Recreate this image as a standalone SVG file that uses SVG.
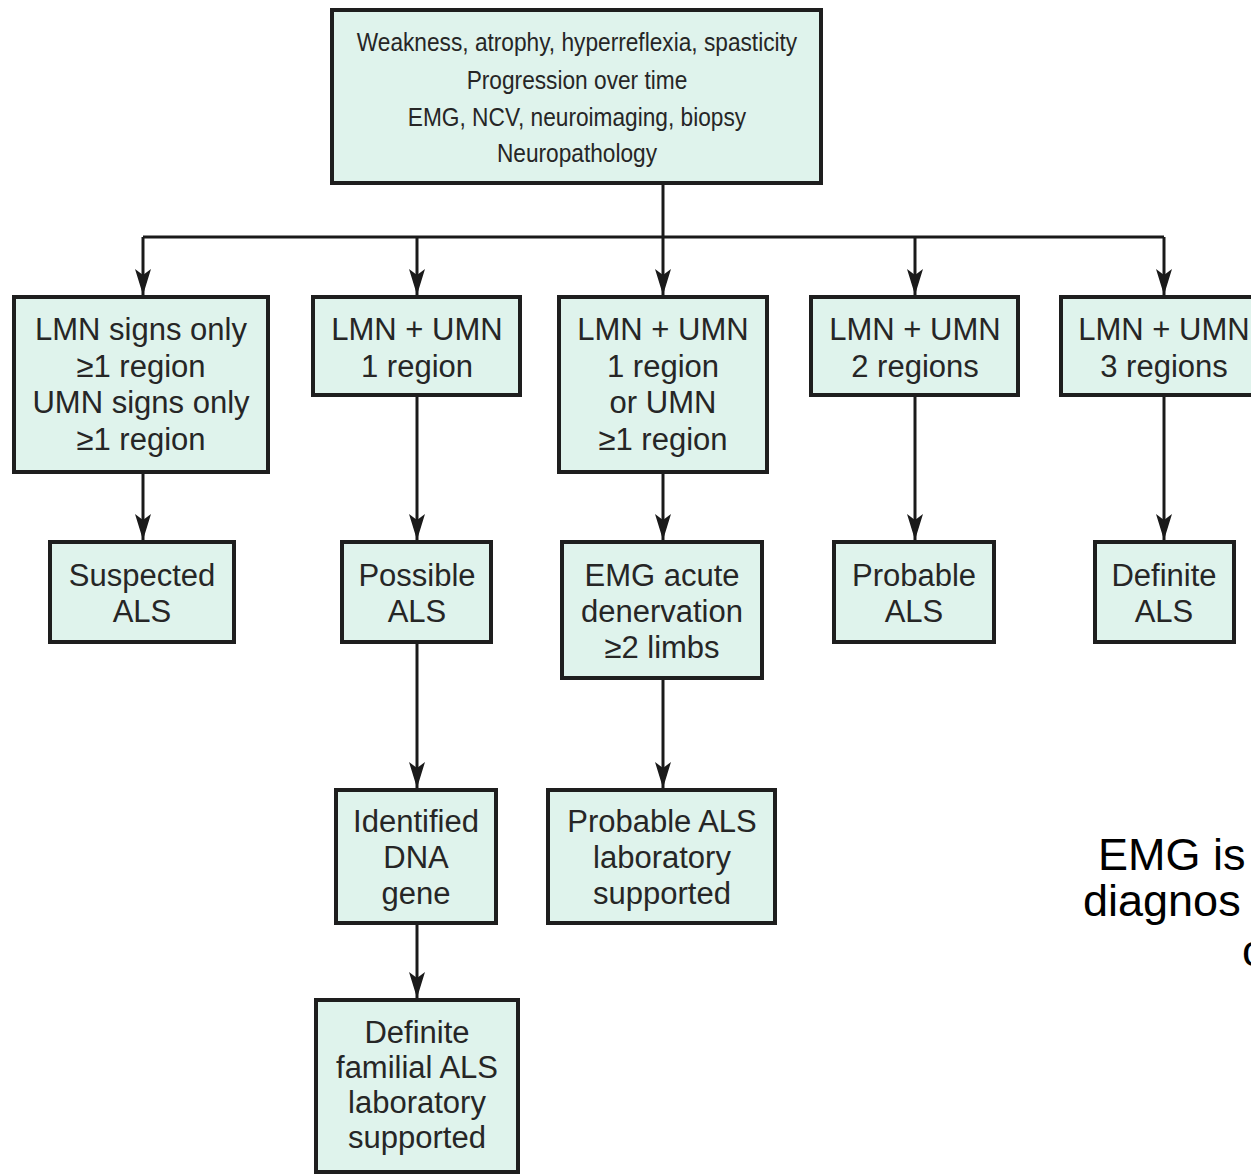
<svg xmlns="http://www.w3.org/2000/svg" width="1251" height="1174" viewBox="0 0 1251 1174">
<style>
.box{fill:#dff3ec;stroke:#1e1e1e;stroke-width:4}
.t{font-family:"Liberation Sans",Arial,sans-serif;font-size:31px;fill:#262626;text-anchor:middle}
.tt{font-family:"Liberation Sans",Arial,sans-serif;font-size:25.5px;fill:#262626;text-anchor:middle}
.c{fill:none;stroke:#1a1a1a;stroke-width:3}
.note{font-family:"Liberation Sans",Arial,sans-serif;font-size:45px;fill:#000}
</style>
<defs>
<marker id="ah" viewBox="0 0 26 16" refX="26" refY="8" markerWidth="26" markerHeight="16" markerUnits="userSpaceOnUse" orient="auto">
<path d="M0,0 L26,8 L0,16 L6,8 Z" fill="#1a1a1a"/>
</marker>
</defs>
<rect width="1251" height="1174" fill="#fff"/>
<g id="connectors">
<path class="c" d="M663,183 V237"/>
<path class="c" d="M143,237 H1164"/>
<path class="c" d="M143,237 V295" marker-end="url(#ah)"/>
<path class="c" d="M417,237 V295" marker-end="url(#ah)"/>
<path class="c" d="M663,237 V295" marker-end="url(#ah)"/>
<path class="c" d="M915,237 V295" marker-end="url(#ah)"/>
<path class="c" d="M1164,237 V295" marker-end="url(#ah)"/>
<path class="c" d="M143,472 V540" marker-end="url(#ah)"/>
<path class="c" d="M417,395 V540" marker-end="url(#ah)"/>
<path class="c" d="M663,472 V540" marker-end="url(#ah)"/>
<path class="c" d="M915,395 V540" marker-end="url(#ah)"/>
<path class="c" d="M1164,395 V540" marker-end="url(#ah)"/>
<path class="c" d="M417,642 V788" marker-end="url(#ah)"/>
<path class="c" d="M663,678 V788" marker-end="url(#ah)"/>
<path class="c" d="M417,923 V998" marker-end="url(#ah)"/>
</g>
<g id="top">
<rect class="box" x="332" y="10" width="489" height="173"/>
<g transform="translate(577,0) scale(0.89,1)">
<text class="tt" x="0" y="51">Weakness, atrophy, hyperreflexia, spasticity</text>
<text class="tt" x="0" y="89">Progression over time</text>
<text class="tt" x="0" y="126">EMG, NCV, neuroimaging, biopsy</text>
<text class="tt" x="0" y="162">Neuropathology</text>
</g>
</g>
<g id="n1">
<rect class="box" x="14" y="297" width="254" height="175"/>
<text class="t" x="141" y="340">LMN signs only</text>
<text class="t" x="141" y="377">≥1 region</text>
<text class="t" x="141" y="413">UMN signs only</text>
<text class="t" x="141" y="450">≥1 region</text>
</g>
<g id="n2">
<rect class="box" x="313" y="297" width="207" height="98"/>
<text class="t" x="417" y="340">LMN + UMN</text>
<text class="t" x="417" y="377">1 region</text>
</g>
<g id="n3">
<rect class="box" x="559" y="297" width="208" height="175"/>
<text class="t" x="663" y="340">LMN + UMN</text>
<text class="t" x="663" y="377">1 region</text>
<text class="t" x="663" y="413">or UMN</text>
<text class="t" x="663" y="450">≥1 region</text>
</g>
<g id="n4">
<rect class="box" x="811" y="297" width="207" height="98"/>
<text class="t" x="915" y="340">LMN + UMN</text>
<text class="t" x="915" y="377">2 regions</text>
</g>
<g id="n5">
<rect class="box" x="1061" y="297" width="207" height="98"/>
<text class="t" x="1164" y="340">LMN + UMN</text>
<text class="t" x="1164" y="377">3 regions</text>
</g>
<g id="n6">
<rect class="box" x="50" y="542" width="184" height="100"/>
<text class="t" x="142" y="586">Suspected</text>
<text class="t" x="142" y="622">ALS</text>
</g>
<g id="n7">
<rect class="box" x="342" y="542" width="149" height="100"/>
<text class="t" x="417" y="586">Possible</text>
<text class="t" x="417" y="622">ALS</text>
</g>
<g id="n8">
<rect class="box" x="562" y="542" width="200" height="136"/>
<text class="t" x="662" y="586">EMG acute</text>
<text class="t" x="662" y="622">denervation</text>
<text class="t" x="662" y="658">≥2 limbs</text>
</g>
<g id="n9">
<rect class="box" x="834" y="542" width="160" height="100"/>
<text class="t" x="914" y="586">Probable</text>
<text class="t" x="914" y="622">ALS</text>
</g>
<g id="n10">
<rect class="box" x="1095" y="542" width="139" height="100"/>
<text class="t" x="1164" y="586">Definite</text>
<text class="t" x="1164" y="622">ALS</text>
</g>
<g id="n11">
<rect class="box" x="336" y="790" width="160" height="133"/>
<text class="t" x="416" y="832">Identified</text>
<text class="t" x="416" y="868">DNA</text>
<text class="t" x="416" y="904">gene</text>
</g>
<g id="n12">
<rect class="box" x="548" y="790" width="227" height="133"/>
<text class="t" x="662" y="832">Probable ALS</text>
<text class="t" x="662" y="868">laboratory</text>
<text class="t" x="662" y="904">supported</text>
</g>
<g id="n13">
<rect class="box" x="316" y="1000" width="202" height="172"/>
<text class="t" x="417" y="1043">Definite</text>
<text class="t" x="417" y="1078">familial ALS</text>
<text class="t" x="417" y="1113">laboratory</text>
<text class="t" x="417" y="1148">supported</text>
</g>
<g id="note">
<text class="note" x="1098" y="870">EMG is</text>
<text class="note" x="1083" y="916">diagnos</text>
<text class="note" x="1242" y="966">c</text>
</g>
</svg>
